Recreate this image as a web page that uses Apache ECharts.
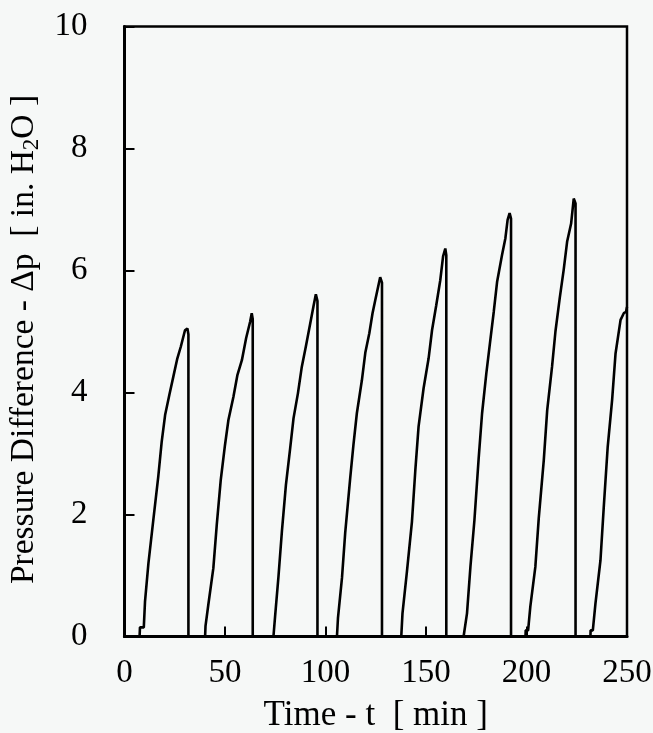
<!DOCTYPE html>
<html>
<head>
<meta charset="utf-8">
<script src="https://cdn.jsdelivr.net/npm/echarts@6/dist/echarts.min.js"></script>
<style>
html,body{margin:0;padding:0;background:#f6f8f7;}
#chart{width:653px;height:733px;}
</style>
</head>
<body>
<div id="chart"></div>
<script>
// Time [min] and pressure difference [in. H2O]
const timeMin = [
  0, 7.5, 7.7, 9.6, 10.2, 10.8, 11.9, 12.4, 14.3, 14.8, 16.8, 17.3, 18.5, 19.0, 20.2, 20.8, 22.3, 22.8, 24.3, 24.8, 26.3, 26.8, 28.0, 28.6, 30.1, 30.6, 31.3, 31.8, 31.8,
  40.1, 40.3, 41.2, 41.7, 42.2, 44.2, 44.7, 45.9, 46.4, 47.9, 48.4, 50.0, 50.5, 51.7, 52.2, 54.2, 54.7, 56.2, 56.7, 58.4, 58.9, 60.5, 61.0, 62.5, 63.3, 63.8, 63.8,
  74.1, 74.9, 75.4, 76.6, 77.1, 78.3, 78.8, 80.3, 80.8, 82.4, 82.9, 84.1, 84.6, 86.3, 86.8, 88.2, 88.7, 90.2, 90.7, 92.4, 92.9, 94.0, 94.5, 95.2, 96.0, 96.0,
  105.7, 106.2, 106.7, 108.2, 108.7, 109.8, 110.3, 112.3, 112.8, 113.9, 114.4, 115.6, 116.1, 118.1, 118.6, 119.8, 120.3, 121.8, 122.3, 123.4, 123.9, 124.8, 125.3, 127.2, 128.1, 128.1,
  137.7, 138.3, 138.8, 140.5, 141.0, 143.0, 143.5, 144.7, 145.2, 146.3, 146.8, 148.8, 149.3, 151.3, 151.8, 153.0, 153.5, 155.1, 155.6, 157.1, 157.6, 158.5, 159.6, 160.1, 160.1,
  168.7, 170.4, 170.9, 172.1, 172.6, 174.1, 174.6, 176.2, 176.7, 177.9, 178.4, 180.0, 180.5, 182.0, 182.5, 183.7, 184.2, 185.4, 185.9, 187.8, 188.3, 189.5, 190.0, 190.6, 191.6, 192.3, 192.3,
  199.5, 199.6, 200.8, 201.9, 202.4, 204.4, 204.9, 206.1, 206.6, 208.6, 209.1, 210.3, 210.8, 212.7, 213.2, 214.4, 214.9, 216.5, 217.0, 218.5, 219.0, 220.2, 220.7, 222.2, 222.7, 223.5, 224.4, 224.4,
  231.8, 231.9, 233.0, 234.3, 234.8, 236.8, 237.3, 238.4, 238.9, 240.4, 240.9, 242.6, 243.1, 244.3, 244.8, 246.8, 247.3, 248.4, 249.5, 250
];
const pressure = [
  0, 0, 0.15, 0.15, 0.57, 0.6, 1.2, 1.22, 1.9, 1.93, 2.62, 2.65, 3.19, 3.22, 3.63, 3.66, 3.96, 3.99, 4.26, 4.29, 4.56, 4.58, 4.75, 4.78, 5.02, 5.05, 5.05, 4.95, 0,
  0, 0.17, 0.17, 0.52, 0.55, 1.12, 1.15, 1.83, 1.86, 2.57, 2.6, 3.14, 3.17, 3.55, 3.58, 3.93, 3.96, 4.29, 4.32, 4.53, 4.56, 4.89, 4.92, 5.16, 5.3, 5.2, 0,
  0, 0.32, 0.35, 0.98, 1.01, 1.72, 1.75, 2.48, 2.51, 3.08, 3.11, 3.58, 3.61, 3.99, 4.02, 4.42, 4.45, 4.75, 4.78, 5.13, 5.16, 5.41, 5.44, 5.61, 5.5, 0,
  0, 0.3, 0.33, 0.96, 0.99, 1.7, 1.73, 2.6, 2.63, 3.14, 3.17, 3.66, 3.69, 4.2, 4.23, 4.65, 4.68, 4.97, 5.0, 5.3, 5.33, 5.52, 5.55, 5.89, 5.8, 0,
  0, 0.38, 0.41, 1.06, 1.09, 1.88, 1.91, 2.73, 2.76, 3.44, 3.47, 4.07, 4.1, 4.56, 4.59, 5.02, 5.05, 5.43, 5.46, 5.84, 5.87, 6.23, 6.36, 6.25, 0,
  0, 0.38, 0.41, 1.14, 1.17, 1.91, 1.94, 2.92, 2.95, 3.66, 3.69, 4.31, 4.34, 4.86, 4.89, 5.32, 5.35, 5.82, 5.85, 6.25, 6.28, 6.53, 6.56, 6.83, 6.94, 6.85, 0,
  0, 0.1, 0.1, 0.49, 0.52, 1.14, 1.17, 1.94, 1.97, 2.89, 2.92, 3.71, 3.74, 4.42, 4.45, 5.0, 5.03, 5.54, 5.57, 6.01, 6.04, 6.47, 6.5, 6.77, 6.8, 7.18, 7.1, 0,
  0, 0.1, 0.1, 0.54, 0.57, 1.25, 1.28, 2.1, 2.13, 3.11, 3.14, 3.88, 3.91, 4.64, 4.67, 5.19, 5.22, 5.3, 5.32, 5.4
];
const xTicks = [0, 50, 100, 150, 200, 250];
const yTicks = [0, 2, 4, 6, 8, 10];

const FONT = '"Liberation Serif", "Times New Roman", Times, serif';
const points = timeMin.map((t, i) => [t, pressure[i]]);

const chart = echarts.init(document.getElementById('chart'), null, {renderer: 'canvas'});
chart.setOption({
  backgroundColor: '#f6f8f7',
  animation: false,
  grid: {
    left: 124.5, right: 26, top: 26.5, bottom: 96.5,
    containLabel: false,
    outerBoundsMode: 'none',
    show: true, borderColor: '#000', borderWidth: 2.5, backgroundColor: 'transparent'
  },
  xAxis: {
    type: 'value',
    min: xTicks[0], max: xTicks[xTicks.length - 1], interval: 50,
    name: 'Time - t  [ min ]',
    nameLocation: 'middle', nameGap: 62,
    nameTextStyle: {fontFamily: FONT, fontSize: 35, color: '#000'},
    axisLine: {show: true, lineStyle: {color: '#000', width: 3}},
    axisTick: {show: true, inside: true, length: 10, lineStyle: {color: '#000', width: 2}},
    axisLabel: {fontFamily: FONT, fontSize: 33, color: '#000', margin: 20},
    splitLine: {show: false}
  },
  yAxis: {
    type: 'value',
    min: yTicks[0], max: yTicks[yTicks.length - 1], interval: 2,
    name: '{t|Pressure Difference - Δp  [ in. H}{s|2}{t|O ]}',
    nameLocation: 'middle', nameGap: 79,
    nameTextStyle: {
      color: '#000',
      padding: [0, 16, 0, 0],
      rich: {
        t: {fontFamily: FONT, fontSize: 33.5, color: '#000', lineHeight: 38},
        s: {fontFamily: FONT, fontSize: 23, color: '#000', lineHeight: 23, verticalAlign: 'bottom'}
      }
    },
    axisLine: {show: true, lineStyle: {color: '#000', width: 3}},
    axisTick: {show: true, inside: true, length: 10, lineStyle: {color: '#000', width: 2}},
    axisLabel: {fontFamily: FONT, fontSize: 33, color: '#000', margin: 37},
    splitLine: {show: false}
  },
  series: [{
    type: 'line',
    data: points,
    showSymbol: false,
    symbol: 'none',
    smooth: false,
    clip: true,
    lineStyle: {color: '#000', width: 2.6},
    z: 1
  }]
});
</script>
</body>
</html>
